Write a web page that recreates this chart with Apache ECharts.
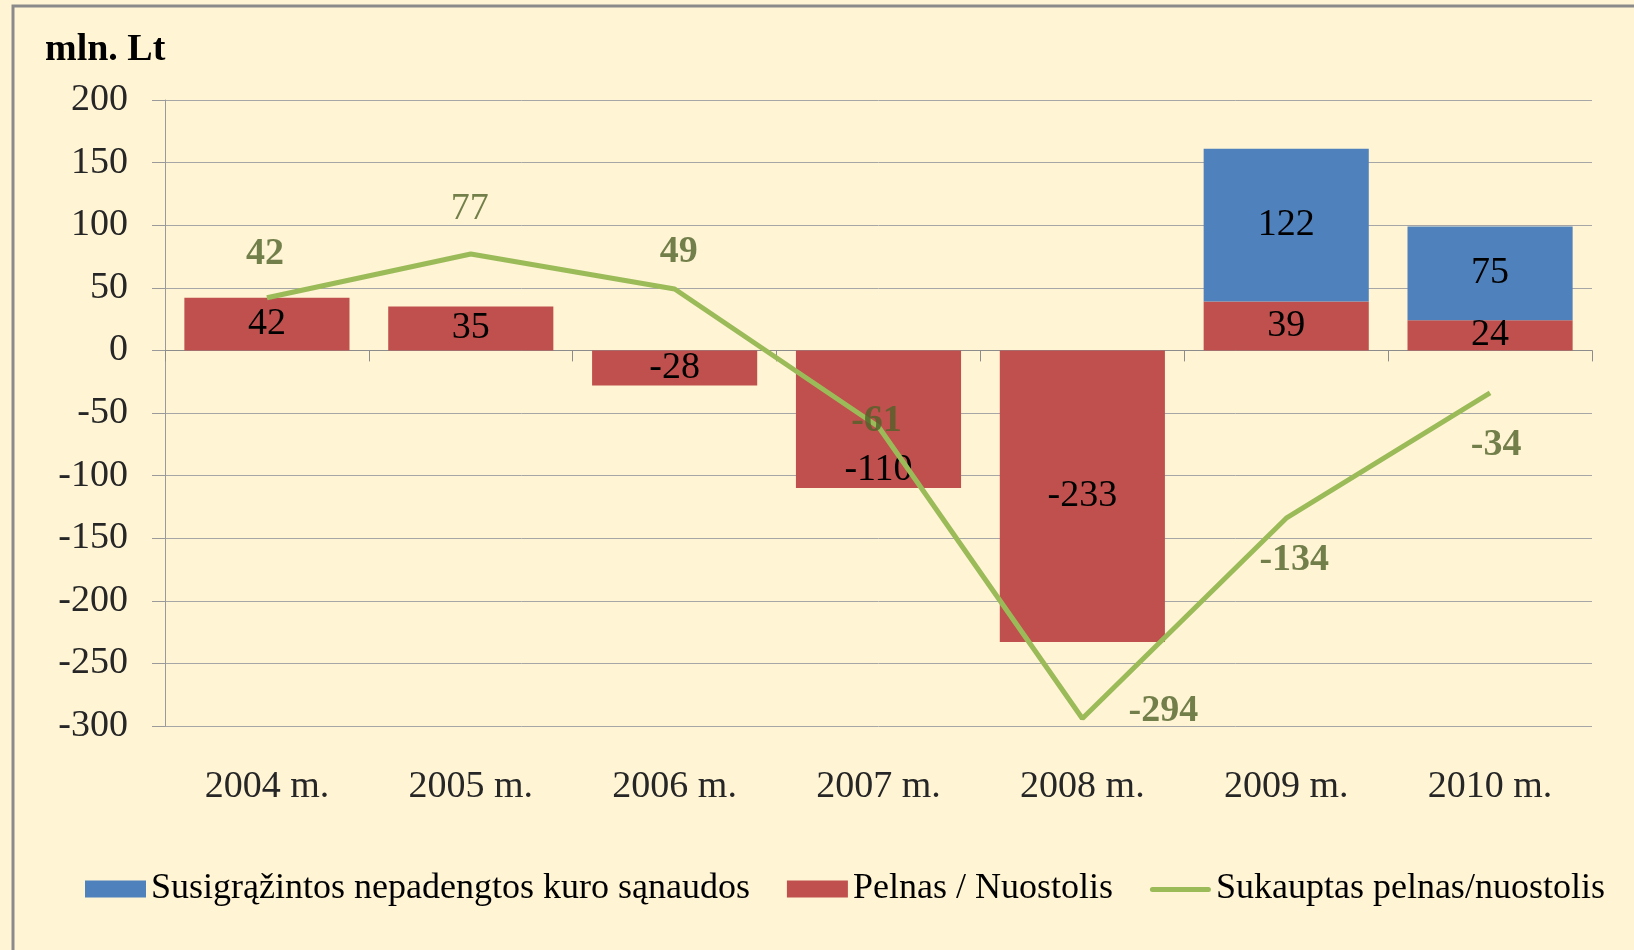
<!DOCTYPE html>
<html>
<head>
<meta charset="utf-8">
<script src="https://cdn.jsdelivr.net/npm/echarts@6/dist/echarts.min.js"></script>
<style>
html,body{margin:0;padding:0;background:#FFF4D4;}
#c{width:1634px;height:950px;}
</style>
</head>
<body>
<div id="c"></div>
<script>
const categories = ['2004 m.', '2005 m.', '2006 m.', '2007 m.', '2008 m.', '2009 m.', '2010 m.'];
const recovered = [null, null, null, null, null, 122, 75];
const profit = [42, 35, -28, -110, -233, 39, 24];
const cumulative = [42, 77, 49, -61, -294, -134, -34];
const seriesNames = ['Susigrąžintos nepadengtos kuro sąnaudos', 'Pelnas / Nuostolis', 'Sukauptas pelnas/nuostolis'];
const unitLabel = 'mln. Lt';

// label styling (offsets in px)
const cumLabelOffsets = [[-2,-44],[-1,-45],[4,-37],[-2,-6],[81,-7],[8,42],[6,52]];
const cumLabelBold = [true,false,true,true,true,true,true];
const profitLabelOffsets = [[0,0],[0,0],[0,0],[0,51],[0,0],[0,0],[0,0]];

const FONT = '"Liberation Serif", "Times New Roman", serif';
const FS = 38;
const chart = echarts.init(document.getElementById('c'));

const profitData = profit.map((v, i) => ({
  value: v,
  label: { offset: profitLabelOffsets[i] }
}));
const cumLabelData = cumulative.map((v, i) => ({
  value: v,
  label: { offset: cumLabelOffsets[i], fontWeight: cumLabelBold[i] ? 'bold' : 'normal' }
}));

chart.setOption({
  backgroundColor: '#FFF4D4',
  animation: false,
  title: {
    text: unitLabel, left: 40, top: 26,
    textStyle: { fontFamily: FONT, fontSize: 38, fontWeight: 'bold', color: '#000' }
  },
  graphic: [{
    type: 'rect', silent: true,
    shape: { x: 13, y: 6, width: 1700, height: 1000 },
    style: { fill: 'none', stroke: '#8a8a8a', lineWidth: 3 }
  }],
  grid: { left: 165, right: 42, top: 100, bottom: 224 },
  legend: {
    data: [
      { name: seriesNames[0], icon: 'rect' },
      { name: seriesNames[1], icon: 'rect' },
      { name: seriesNames[2], icon: 'path://M0,0M2.5,6.5L58.5,6.5A2.5,2.5,0,0,1,58.5,11.5L2.5,11.5A2.5,2.5,0,0,1,2.5,6.5ZM61,17' }
    ],
    left: 80, top: 866, right: 0,
    itemWidth: 61, itemHeight: 17, itemGap: 37,
    textStyle: { fontFamily: FONT, fontSize: 36, color: '#000' }
  },
  xAxis: [{
    type: 'category', data: categories, position: 'bottom',
    axisLine: { show: false, onZero: false }, axisTick: { show: false },
    axisLabel: { fontFamily: FONT, fontSize: FS, color: '#262626', margin: 42 }
  }, {
    type: 'category', data: categories, position: 'top',
    axisLine: { show: true, onZero: true, onZeroAxisIndex: 0, lineStyle: { color: '#8c8c8c', width: 1 } },
    axisTick: { show: true, inside: true, length: 11, lineStyle: { color: '#8c8c8c' } },
    axisLabel: { show: false }
  }],
  yAxis: {
    type: 'value', min: -300, max: 200, interval: 50,
    axisLine: { show: true, lineStyle: { color: '#9a9a9a' } },
    axisTick: { show: true, length: 13, lineStyle: { color: '#9a9a9a' } },
    splitLine: { show: true, lineStyle: { color: '#a6a6a6', width: 1 } },
    axisLabel: { fontFamily: FONT, fontSize: FS, color: '#262626', margin: 37 }
  },
  series: [{
    name: seriesNames[1], type: 'bar', stack: 's', xAxisIndex: 0,
    barCategoryGap: '19%',
    itemStyle: { color: '#C0504D' },
    label: { show: true, position: 'inside', fontFamily: FONT, fontSize: FS, color: '#000' },
    data: profitData, z: 2
  }, {
    name: seriesNames[0], type: 'bar', stack: 's', xAxisIndex: 0,
    barCategoryGap: '19%',
    itemStyle: { color: '#4F81BD' },
    label: { show: true, position: 'inside', fontFamily: FONT, fontSize: FS, color: '#000' },
    data: recovered, z: 2
  }, {
    name: seriesNames[2], type: 'line', xAxisIndex: 0,
    symbol: 'none',
    lineStyle: { color: '#9BBB59', width: 5 },
    itemStyle: { color: '#9BBB59' },
    data: cumulative, z: 3
  }, {
    name: 'labels', type: 'scatter', xAxisIndex: 0,
    symbolSize: 0.01, itemStyle: { color: 'rgba(0,0,0,0)' },
    label: { show: true, position: 'inside', fontFamily: FONT, fontSize: FS, color: '#4F6228' },
    data: cumLabelData, z: 4, silent: true
  }]
});
</script>
</body>
</html>
